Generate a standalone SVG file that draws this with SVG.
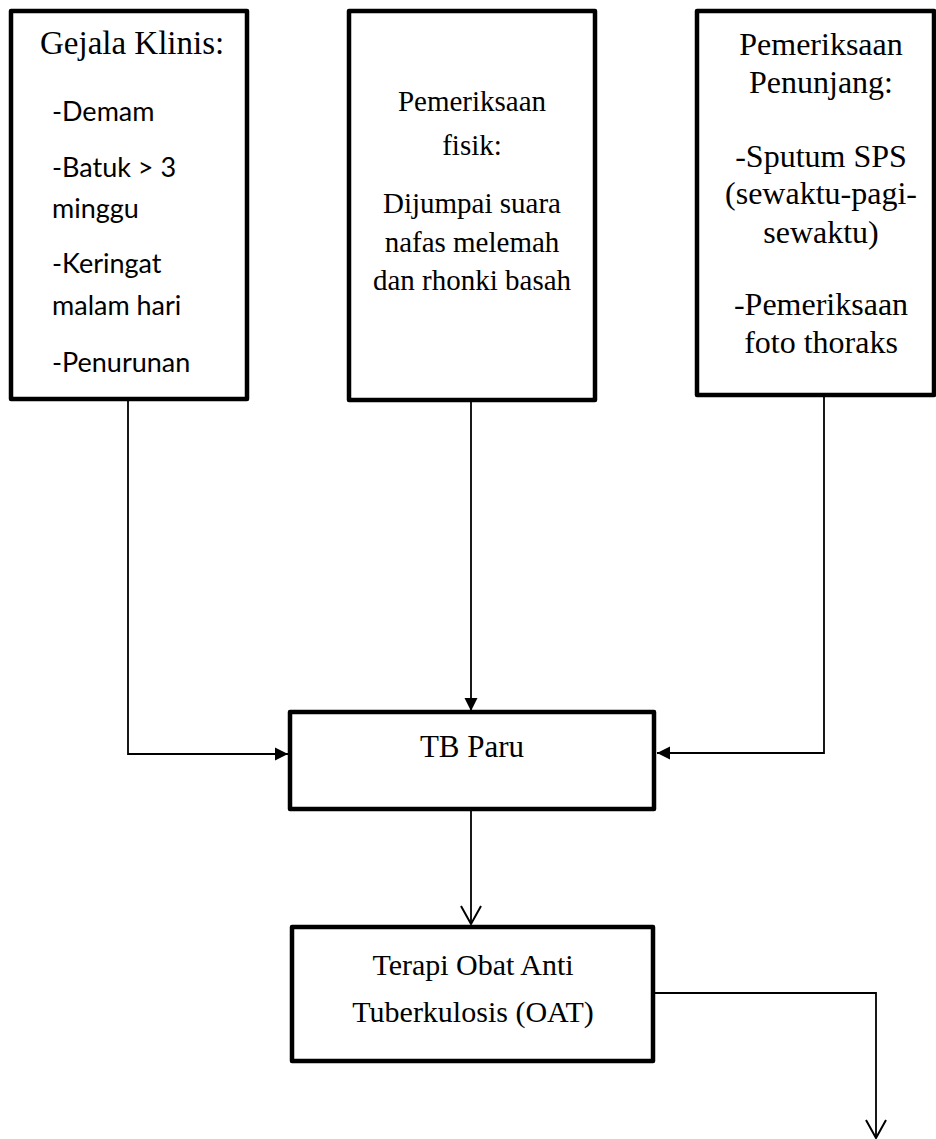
<svg xmlns="http://www.w3.org/2000/svg" width="936" height="1139" viewBox="0 0 936 1139">
<style>
.box{fill:#fff;stroke:#000;stroke-width:4.5;stroke-linejoin:round}
.serif{font-family:"Liberation Serif","Times New Roman",serif;fill:#000}
.sans{font-family:Lato,"Liberation Sans",sans-serif;fill:#000;font-size:27px}
.con{fill:none;stroke:#000;stroke-width:1.8}
</style>
<defs>
<marker id="fill" markerWidth="14" markerHeight="14" refX="13" refY="7" orient="auto" markerUnits="userSpaceOnUse">
<path d="M0,0.5 L13,7 L0,13.5 Z" fill="#000"/>
</marker>
<marker id="open" markerWidth="22" markerHeight="24" refX="19" refY="11" orient="auto" markerUnits="userSpaceOnUse">
<path d="M1,1 L19,11 L1,21" fill="none" stroke="#000" stroke-width="2"/>
</marker>
</defs>
<rect width="936" height="1139" fill="#fff"/>
<g id="connectors">
<polyline class="con" points="128,398 128,754 288,754" marker-end="url(#fill)"/>
<line class="con" x1="471" y1="401" x2="471" y2="711" marker-end="url(#fill)"/>
<polyline class="con" points="824,395 824,753 657,753" marker-end="url(#fill)"/>
<line class="con" x1="471" y1="811" x2="471" y2="924" marker-end="url(#open)"/>
<polyline class="con" points="655,993 876,993 876,1138" marker-end="url(#open)"/>
</g>
<g id="gejala">
<rect class="box" x="11" y="11" width="236" height="388"/>
<text class="serif" x="40" y="54" font-size="33">Gejala Klinis:</text>
<text class="sans" x="52" y="121">-Demam</text>
<text class="sans" x="52" y="177">-Batuk &gt; 3</text>
<text class="sans" x="52" y="218">minggu</text>
<text class="sans" x="52" y="273">-Keringat</text>
<text class="sans" x="52" y="315">malam hari</text>
<text class="sans" x="52" y="372">-Penurunan</text>
</g>
<g id="fisik">
<rect class="box" x="349" y="11" width="246" height="389"/>
<g class="serif" font-size="29" text-anchor="middle">
<text x="472" y="111">Pemeriksaan</text>
<text x="472" y="155">fisik:</text>
<text x="472" y="213">Dijumpai suara</text>
<text x="472" y="252">nafas melemah</text>
<text x="472" y="290">dan rhonki basah</text>
</g>
</g>
<g id="penunjang">
<rect class="box" x="697" y="11" width="237" height="384"/>
<g class="serif" font-size="32" text-anchor="middle">
<text x="821" y="55">Pemeriksaan</text>
<text x="821" y="93">Penunjang:</text>
<text x="821" y="167">-Sputum SPS</text>
<text x="821" y="204">(sewaktu-pagi-</text>
<text x="821" y="243">sewaktu)</text>
<text x="821" y="315">-Pemeriksaan</text>
<text x="821" y="353">foto thoraks</text>
</g>
</g>
<g id="tbparu">
<rect class="box" x="290" y="712" width="364" height="97"/>
<text class="serif" x="472" y="757" font-size="31" text-anchor="middle">TB Paru</text>
</g>
<g id="terapi">
<rect class="box" x="292" y="927" width="361" height="134"/>
<g class="serif" font-size="30" text-anchor="middle">
<text x="473" y="975">Terapi Obat Anti</text>
<text x="473" y="1022">Tuberkulosis (OAT)</text>
</g>
</g>
</svg>
